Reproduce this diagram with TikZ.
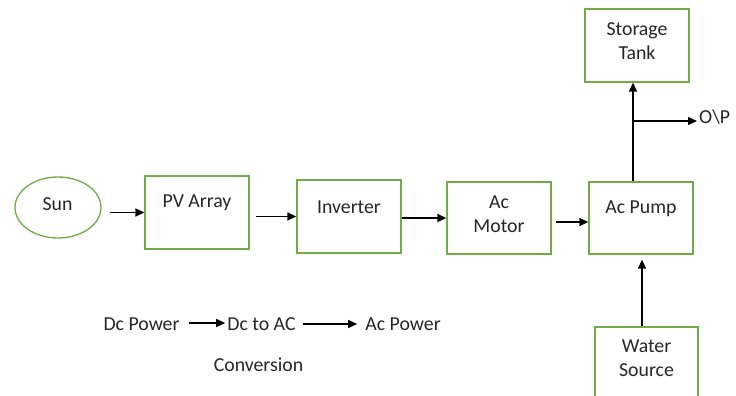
\documentclass[tikz,border=0pt]{standalone}
\usepackage{fontspec}
\setmainfont{Carlito}
\usetikzlibrary{arrows.meta,shapes.geometric}
\definecolor{boxgreen}{RGB}{112,173,71}
\definecolor{inkgray}{RGB}{38,38,38}

\begin{document}
\begin{tikzpicture}
    [x=1pt,y=-1pt,
    Block/.style={draw=boxgreen, line width=1.3pt, minimum width=104pt, minimum height=73pt, inner sep=0pt},
    Caption/.style={text=inkgray, font=\fontsize{19.8}{24}\selectfont, align=center, inner sep=2pt},
    Flow/.style={line width=1.4pt, -{Triangle[length=9pt,width=8pt]}},
    ]

    \clip (0,0) rectangle (736,396);

    %Sun and blocks
    \node[draw=boxgreen, line width=1.3pt, ellipse, minimum width=86pt, minimum height=61pt, inner sep=0pt] (sun) at (58,207.5) {};
    \node[Caption] (suntext) at (57.5,204) {Sun};
    \node[Block] (pv) at (197,212.5) {};
    \node[Caption] (pvtext) at (197,203) {PV Array};
    \node[Block] (inv) at (349,216.5) {};
    \node[Caption] (invtext) at (349,207) {Inverter};
    \node[Block, minimum height=72pt] (motor) at (499,218) {};
    \node[Caption] (motortext) at (499,214) {Ac\\Motor};
    \node[Block, minimum height=72pt] (pump) at (641,218) {};
    \node[Caption] (pumptext) at (641,209) {Ac Pump};
    \node[Block] (tank) at (637,45.5) {};
    \node[Caption] (tanktext) at (637,41) {Storage\\Tank};
    \node[Block, minimum width=103pt, minimum height=90pt] (water) at (646.5,372) {};
    \node[Caption] (watertext) at (646.5,358.5) {Water\\Source};

    %Main flow
    \draw[Flow] ([xshift=8pt]sun.east |- pv.west) -- (pv.west);
    \draw[Flow] ([xshift=6pt]pv.east |- inv.west) -- (inv.west);
    \draw[Flow] (inv.east |- motor.west) -- (motor.west);
    \draw[Flow] ([xshift=4pt,yshift=-4pt]motor.east) -- ([yshift=-4pt]pump.west);
    \draw[Flow] ([xshift=-8pt]pump.north) -- ([xshift=-8pt]pump.north |- tank.south);
    \draw[Flow, shorten >=5pt] ([xshift=1pt]pump.south |- water.north) -- ([xshift=1pt]pump.south);

    %Output
    \coordinate (split) at (633,121);
    \node[Caption, anchor=west] (op) at (697,117) {O\textbackslash P};
    \draw[Flow] (split) -- (op.west |- split);

    %Legend
    \node[Caption] (dcpow) at (141.5,324) {Dc Power};
    \node[Caption] (dcac) at (261.5,324) {Dc to AC};
    \node[Caption] (acpow) at (403,324) {Ac Power};
    \node[Caption] (conv) at (258.5,365) {Conversion};
    \draw[Flow, line width=1.2pt, shorten <=7pt] ([yshift=1pt]dcpow.east) -- ([yshift=1pt]dcac.west);
    \draw[Flow, line width=1.2pt, shorten <=5pt, shorten >=6pt] (dcac.east) -- (acpow.west);

    \end{tikzpicture}
\end{document}
